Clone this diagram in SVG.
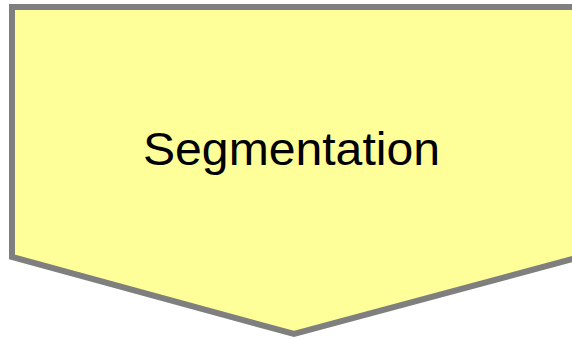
<svg xmlns="http://www.w3.org/2000/svg" width="572" height="339" viewBox="0 0 572 339">
<style>
.shape{fill:#FFFF99;stroke:#7F7F7F;stroke-width:6;stroke-linejoin:miter}
.label{font-family:"Liberation Sans",Arial,sans-serif;font-size:47px;fill:#000}
</style>
<g id="segmentation">
<path class="shape" d="M12,7 L580,7 L580,257 L294,334 L12,257 Z"/>
<text class="label" x="291.5" y="165" text-anchor="middle" textLength="297" lengthAdjust="spacingAndGlyphs">Segmentation</text>
</g>
<g id="connectors"></g>
</svg>
